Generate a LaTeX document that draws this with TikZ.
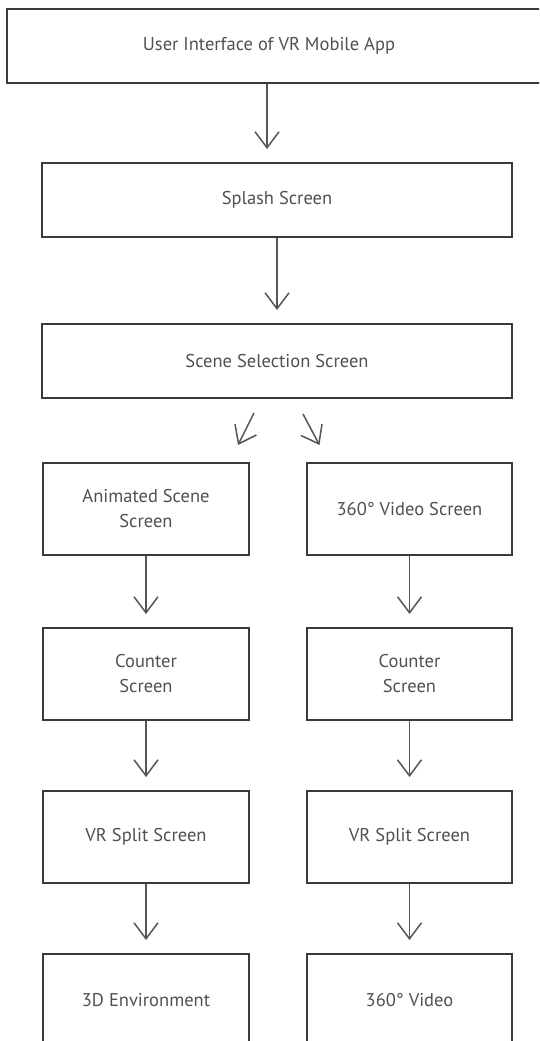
\documentclass[tikz,border=0pt]{standalone}
\usepackage{fontspec}
\setmainfont{PT Sans}
\usetikzlibrary{arrows.meta,calc}
\definecolor{boxline}{HTML}{3A3A3A}
\definecolor{arrowline}{HTML}{555555}
\definecolor{labeltext}{HTML}{505050}
\begin{document}
\begin{tikzpicture}[x=1pt,y=-1pt,
  screenbox/.style={draw=boxline,line width=2pt,rectangle,inner sep=0pt,
    text=labeltext,align=center,font=\fontsize{18.5}{25}\selectfont},
  flow/.style={draw=arrowline,line width=1.5pt,
    -{Straight Barb[length=16pt,width=24pt,line width=1.5pt]}}]
  \useasboundingbox (0,0) rectangle (539,1041);
  \clip (0,0) rectangle (539,1041);

  % header
  \node[screenbox,minimum width=538pt,minimum height=74pt] (top) at (276,46) {};
  \node[text=labeltext,font=\fontsize{18.5}{25}\selectfont,inner sep=0pt] (toptext) at (269,46) {User Interface of VR Mobile App};

  % full-width screens
  \node[screenbox,minimum width=470pt,minimum height=74pt] (splash) at (277,200) {Splash Screen};
  \node[screenbox,minimum width=470pt,minimum height=74pt] (scene) at (277,361) {Scene Selection Screen};

  % left branch
  \node[screenbox,minimum width=206pt,minimum height=92pt] (l1) at (146,509) {Animated Scene\\Screen};
  \node[screenbox,minimum width=206pt,minimum height=92pt] (l2) at (146,674) {Counter\\Screen};
  \node[screenbox,minimum width=206pt,minimum height=92pt] (l3) at (146,837) {VR Split Screen};
  \node[screenbox,minimum width=206pt,minimum height=92pt] (l4) at (146,1000) {3D Environment};

  % right branch
  \node[screenbox,minimum width=205pt,minimum height=92pt] (r1) at (409.5,509) {360° Video Screen};
  \node[screenbox,minimum width=205pt,minimum height=92pt] (r2) at (409.5,674) {Counter\\Screen};
  \node[screenbox,minimum width=205pt,minimum height=92pt] (r3) at (409.5,837) {VR Split Screen};
  \node[screenbox,minimum width=205pt,minimum height=92pt] (r4) at (409.5,1000) {360° Video};

  % connectors
  \draw[flow] ([xshift=-2pt]top.south -| toptext) -- ([xshift=-2pt,yshift=13pt]splash.north -| toptext);
  \draw[flow] (splash.south) -- ([yshift=13pt]scene.north);
  \draw[flow] ($(scene.south)+(-23,14)$) -- ($(l1.north)+(92,-17)$);
  \draw[flow] ($(scene.south)+(26,15)$) -- ($(r1.north)+(-90,-17)$);
  \foreach \a/\b in {l1/l2,l2/l3,l3/l4,r1/r2,r2/r3,r3/r4}
    \draw[flow] (\a.south) -- ([yshift=13pt]\b.north);
\end{tikzpicture}
\end{document}
